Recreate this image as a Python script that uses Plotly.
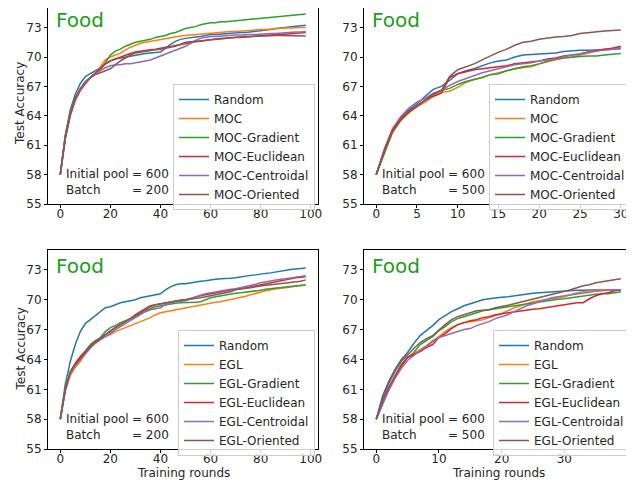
import plotly.graph_objects as go

# ---------------- data ----------------
rounds_200 = list(range(0, 100, 2))
rounds_moc500 = list(range(0, 31))
rounds_egl500 = list(range(0, 40))

moc_names = ["Random", "MOC", "MOC-Gradient", "MOC-Euclidean", "MOC-Centroidal", "MOC-Oriented"]
egl_names = ["Random", "EGL", "EGL-Gradient", "EGL-Euclidean", "EGL-Centroidal", "EGL-Oriented"]

# Panel 1: MOC, batch 200
moc200_random = [58, 62.0, 64.6, 66.2, 67.3, 68.0, 68.3, 68.6, 68.9, 69.3, 69.6, 69.8, 69.9, 70.0, 70.05, 70.2, 70.3, 70.35, 70.4, 70.45,
                 70.5, 70.9, 71.3, 71.6, 71.8, 71.9, 72.0, 72.05, 72.1, 72.2, 72.3, 72.3, 72.35, 72.4, 72.4, 72.45, 72.5, 72.5, 72.55, 72.6,
                 72.7, 72.75, 72.8, 72.9, 72.95, 73.0, 73.1, 73.15, 73.2, 73.25]
moc200_moc = [58, 61.8, 64.2, 65.6, 66.6, 67.4, 67.9, 68.3, 69.0, 69.7, 70.0, 70.2, 70.4, 70.7, 71.0, 71.2, 71.4, 71.5, 71.6, 71.7,
              71.8, 71.9, 72.0, 72.1, 72.15, 72.2, 72.25, 72.3, 72.35, 72.4, 72.45, 72.5, 72.5, 72.55, 72.6, 72.6, 72.65, 72.7, 72.75, 72.75,
              72.8, 72.8, 72.85, 72.9, 72.9, 72.95, 72.95, 73.0, 73.0, 73.0]
moc200_gradient = [58, 62.0, 64.4, 65.8, 66.7, 67.4, 67.9, 68.3, 68.7, 69.4, 70.2, 70.6, 70.8, 71.1, 71.3, 71.5, 71.6, 71.7, 71.8, 72.0,
                   72.1, 72.2, 72.4, 72.5, 72.7, 72.9, 73.0, 73.1, 73.3, 73.4, 73.5, 73.5, 73.6, 73.6, 73.65, 73.7, 73.75, 73.8, 73.85, 73.9,
                   74.0, 74.0, 74.05, 74.1, 74.15, 74.2, 74.25, 74.3, 74.35, 74.4]
moc200_euclidean = [58, 61.6, 64.0, 65.6, 66.6, 67.3, 67.9, 68.4, 68.9, 69.3, 69.6, 69.8, 70.0, 70.2, 70.35, 70.5, 70.6, 70.7, 70.75, 70.8,
                    70.9, 71.0, 71.1, 71.2, 71.3, 71.4, 71.5, 71.55, 71.6, 71.7, 71.8, 71.85, 71.9, 71.95, 72.0, 72.0, 72.05, 72.1, 72.1, 72.15,
                    72.2, 72.2, 72.25, 72.3, 72.3, 72.35, 72.4, 72.4, 72.45, 72.5]
moc200_centroidal = [58, 61.8, 64.2, 65.7, 66.7, 67.4, 67.9, 68.3, 68.6, 68.9, 69.1, 69.2, 69.2, 69.3, 69.3, 69.4, 69.5, 69.6, 69.7, 69.9,
                     70.1, 70.3, 70.5, 70.7, 70.9, 71.1, 71.4, 71.7, 71.9, 72.0, 72.1, 72.1, 72.15, 72.2, 72.2, 72.25, 72.25, 72.3, 72.3, 72.3,
                     72.35, 72.35, 72.4, 72.4, 72.45, 72.5, 72.5, 72.55, 72.55, 72.6]
moc200_oriented = [58, 61.8, 64.2, 65.8, 66.8, 67.5, 67.9, 68.2, 68.4, 68.6, 68.8, 69.2, 69.6, 69.9, 70.2, 70.4, 70.5, 70.6, 70.7, 70.75,
                   70.8, 70.9, 71.0, 71.1, 71.3, 71.5, 71.55, 71.6, 71.65, 71.7, 71.8, 71.8, 71.85, 71.9, 71.95, 72.0, 72.0, 72.05, 72.1, 72.1,
                   72.15, 72.15, 72.2, 72.2, 72.2, 72.2, 72.2, 72.2, 72.2, 72.15]

# Panel 2: MOC, batch 500
moc500_random = [58, 60.5, 62.5, 63.8, 64.6, 65.2, 66.0, 66.7, 67.0, 67.6, 68.3, 68.6, 68.8, 69.1, 69.4, 69.6, 69.7, 70.0, 70.2, 70.25,
                 70.3, 70.4, 70.4, 70.55, 70.65, 70.7, 70.7, 70.7, 70.75, 70.8, 70.85]
moc500_moc = [58, 60.2, 62.3, 63.5, 64.3, 64.9, 65.4, 66.0, 66.4, 66.5, 66.9, 67.4, 67.7, 67.9, 68.2, 68.4, 68.6, 68.8, 68.9, 69.0,
              69.3, 69.5, 69.7, 69.9, 70.0, 70.2, 70.4, 70.6, 70.8, 70.9, 71.0]
moc500_gradient = [58, 60.3, 62.4, 63.6, 64.4, 65.0, 65.6, 66.2, 66.6, 66.8, 67.2, 67.5, 67.7, 67.9, 68.2, 68.3, 68.6, 68.8, 69.0, 69.1,
                   69.3, 69.6, 69.8, 69.9, 70.0, 70.05, 70.1, 70.1, 70.2, 70.3, 70.35]
moc500_euclidean = [58, 60.4, 62.4, 63.6, 64.4, 65.0, 65.6, 66.0, 66.3, 67.9, 68.3, 68.5, 68.7, 68.8, 68.9, 69.0, 69.1, 69.3, 69.4, 69.5,
                    69.6, 69.8, 69.9, 70.1, 70.2, 70.3, 70.5, 70.7, 70.8, 70.9, 71.1]
moc500_centroidal = [58, 60.6, 62.7, 63.9, 64.8, 65.4, 65.8, 66.3, 66.6, 67.1, 67.5, 67.8, 68.1, 68.4, 68.6, 68.8, 69.0, 69.2, 69.3, 69.4,
                     69.6, 69.7, 69.8, 70.0, 70.2, 70.3, 70.5, 70.6, 70.7, 70.8, 70.9]
moc500_oriented = [58, 60.5, 62.6, 63.7, 64.5, 65.0, 65.6, 66.2, 66.6, 68.0, 68.7, 69.0, 69.3, 69.7, 70.1, 70.5, 70.8, 71.2, 71.5, 71.6,
                   71.8, 71.95, 72.05, 72.1, 72.2, 72.4, 72.5, 72.6, 72.65, 72.7, 72.75]

# Panel 3: EGL, batch 200
egl200_random = [58, 61.5, 63.8, 65.5, 66.8, 67.6, 68.0, 68.4, 68.8, 69.2, 69.3, 69.5, 69.7, 69.8, 69.9, 70.0, 70.2, 70.3, 70.4, 70.5,
                 70.6, 71.0, 71.3, 71.5, 71.6, 71.6, 71.7, 71.8, 71.85, 71.9, 72.0, 72.05, 72.1, 72.1, 72.15, 72.2, 72.3, 72.4, 72.45, 72.5,
                 72.6, 72.65, 72.7, 72.8, 72.9, 73.0, 73.05, 73.1, 73.15, 73.2]
egl200_egl = [58, 60.8, 62.4, 63.2, 63.8, 64.6, 65.2, 65.6, 66.0, 66.3, 66.5, 66.8, 67.0, 67.2, 67.4, 67.6, 67.8, 68.0, 68.2, 68.5,
              68.7, 68.8, 68.9, 69.0, 69.1, 69.2, 69.3, 69.4, 69.5, 69.6, 69.7, 69.75, 69.8, 69.9, 70.0, 70.1, 70.2, 70.35, 70.5, 70.65,
              70.8, 70.9, 71.0, 71.1, 71.15, 71.2, 71.3, 71.35, 71.4, 71.45]
egl200_gradient = [58, 61.0, 62.8, 63.6, 64.2, 64.9, 65.5, 65.9, 66.2, 66.8, 67.2, 67.4, 67.7, 67.9, 68.1, 68.3, 68.6, 68.9, 69.1, 69.3,
                   69.4, 69.5, 69.6, 69.65, 69.7, 69.7, 69.75, 69.75, 69.8, 70.0, 70.2, 70.3, 70.4, 70.5, 70.6, 70.65, 70.7, 70.75, 70.8, 70.85,
                   70.95, 71.05, 71.1, 71.2, 71.25, 71.3, 71.35, 71.4, 71.45, 71.5]
egl200_euclidean = [58, 61.0, 62.7, 63.6, 64.3, 64.8, 65.4, 65.8, 66.1, 66.5, 66.8, 67.2, 67.5, 67.8, 68.1, 68.5, 68.8, 69.1, 69.4, 69.5,
                    69.6, 69.7, 69.8, 69.9, 69.95, 70.0, 70.15, 70.3, 70.4, 70.5, 70.6, 70.7, 70.8, 70.9, 71.0, 71.1, 71.15, 71.2, 71.3, 71.4,
                    71.5, 71.6, 71.7, 71.85, 71.95, 72.05, 72.15, 72.2, 72.25, 72.3]
egl200_centroidal = [58, 60.9, 62.6, 63.4, 64.0, 64.6, 65.2, 65.7, 66.0, 66.3, 66.6, 67.0, 67.3, 67.6, 67.9, 68.2, 68.5, 68.8, 69.0, 69.1,
                     69.2, 69.5, 69.7, 69.8, 69.85, 69.9, 70.1, 70.3, 70.45, 70.6, 70.7, 70.8, 70.9, 71.0, 71.05, 71.1, 71.2, 71.3, 71.45, 71.55,
                     71.7, 71.8, 71.9, 72.0, 72.05, 72.1, 72.2, 72.3, 72.35, 72.4]
egl200_oriented = [58, 61.0, 62.7, 63.5, 64.1, 64.7, 65.3, 65.7, 66.1, 66.5, 66.9, 67.2, 67.5, 67.8, 68.1, 68.4, 68.7, 69.0, 69.3, 69.5,
                   69.6, 69.7, 69.8, 69.9, 69.95, 70.0, 70.05, 70.1, 70.2, 70.3, 70.4, 70.5, 70.6, 70.7, 70.8, 71.0, 71.05, 71.1, 71.2, 71.3,
                   71.4, 71.45, 71.5, 71.55, 71.6, 71.7, 71.75, 71.8, 71.85, 72.0]

# Panel 4: EGL, batch 500
egl500_random = [58, 60.3, 61.8, 63.0, 64.0, 64.7, 65.6, 66.4, 66.9, 67.4, 68.0, 68.4, 68.8, 69.1, 69.4, 69.6, 69.8, 70.0, 70.1, 70.2,
                 70.25, 70.3, 70.4, 70.5, 70.6, 70.65, 70.7, 70.75, 70.8, 70.85, 70.9, 70.9, 70.95, 70.95, 71.0, 71.0, 71.0, 71.0, 71.0, 71.0]
egl500_egl = [58, 59.6, 61.0, 62.2, 63.3, 64.2, 64.6, 65.0, 65.4, 65.9, 66.3, 66.8, 67.2, 67.5, 67.7, 67.8, 67.9, 68.0, 68.2, 68.4,
              68.6, 68.9, 69.2, 69.4, 69.6, 69.8, 69.9, 70.0, 70.1, 70.2, 70.3, 70.5, 70.7, 70.8, 70.9, 70.95, 71.0, 71.0, 71.0, 71.0]
egl500_gradient = [58, 59.8, 61.2, 62.4, 63.5, 64.2, 64.7, 65.5, 65.9, 66.3, 66.9, 67.3, 67.8, 68.1, 68.3, 68.5, 68.7, 68.9, 69.0, 69.1,
                   69.2, 69.3, 69.4, 69.5, 69.6, 69.7, 69.8, 69.9, 70.0, 70.05, 70.1, 70.2, 70.3, 70.4, 70.5, 70.55, 70.6, 70.6, 70.7, 70.8]
egl500_euclidean = [58, 59.6, 61.1, 62.3, 63.4, 64.2, 64.5, 64.8, 65.2, 65.5, 66.2, 66.6, 67.1, 67.5, 67.7, 67.9, 68.0, 68.2, 68.3, 68.5,
                    68.6, 68.7, 68.8, 68.9, 69.0, 69.05, 69.1, 69.2, 69.3, 69.4, 69.5, 69.6, 69.7, 69.7, 70.1, 70.4, 70.6, 70.7, 70.9, 71.0]
egl500_centroidal = [58, 59.4, 60.9, 62.1, 63.1, 63.9, 64.4, 64.9, 65.3, 65.8, 66.2, 66.4, 66.6, 66.8, 67.0, 67.1, 67.4, 67.6, 67.8, 68.1,
                     68.3, 68.5, 68.8, 69.1, 69.4, 69.6, 69.8, 70.0, 70.2, 70.3, 70.4, 70.5, 70.6, 70.7, 70.8, 70.85, 70.9, 71.0, 71.0, 71.0]
egl500_oriented = [58, 60.0, 61.6, 62.8, 63.8, 64.5, 65.1, 65.7, 66.1, 66.4, 67.0, 67.5, 68.0, 68.3, 68.5, 68.7, 68.9, 68.95, 69.0, 69.2,
                   69.3, 69.45, 69.6, 69.75, 69.9, 70.05, 70.2, 70.35, 70.5, 70.65, 70.8, 71.0, 71.2, 71.4, 71.5, 71.7, 71.8, 71.9, 72.0, 72.1]

y_ticks = [55, 58, 61, 64, 67, 70, 73]
colors = ["#1f77b4", "#ff7f0e", "#2ca02c", "#d62728", "#9467bd", "#8c564b"]

panels = [
    dict(x=rounds_200, names=moc_names, batch="200",
         series=[moc200_random, moc200_moc, moc200_gradient, moc200_euclidean, moc200_centroidal, moc200_oriented]),
    dict(x=rounds_moc500, names=moc_names, batch="500",
         series=[moc500_random, moc500_moc, moc500_gradient, moc500_euclidean, moc500_centroidal, moc500_oriented]),
    dict(x=rounds_200, names=egl_names, batch="200",
         series=[egl200_random, egl200_egl, egl200_gradient, egl200_euclidean, egl200_centroidal, egl200_oriented]),
    dict(x=rounds_egl500, names=egl_names, batch="500",
         series=[egl500_random, egl500_egl, egl500_gradient, egl500_euclidean, egl500_centroidal, egl500_oriented]),
]

# ---------------- layout geometry (page pixels; page body has an 8px margin) ----------------
OFF = 8
W, H = 634 - OFF, 480 - OFF
boxes = [(48, 318, 4, 204), (364, 633, 4, 204), (48, 318, 250, 449), (364, 633, 250, 449)]
xranges = [[-4.9, 102.9], [-1.5, 31.5], [-4.9, 102.9], [-1.95, 40.95]]
xdticks = [20, 5, 20, 10]
legend_pos = [(173, 84), (489, 84), (178, 330), (493, 330)]


def px(x):
    return (x - OFF) / W


def py(y):
    return 1 - (y - OFF) / H


FONT = "DejaVu Sans"
TXT = "#262626"

fig = go.Figure()
layout = dict(width=W, height=H, margin=dict(l=0, r=0, t=0, b=0, autoexpand=False),
              paper_bgcolor="white", plot_bgcolor="white",
              font=dict(family=FONT, size=12, color=TXT), showlegend=True)
annotations = []

for i, p in enumerate(panels):
    k = "" if i == 0 else str(i + 1)
    x0, x1, y0, y1 = boxes[i]
    leg = "legend" + k
    for name, ys, c in zip(p["names"], p["series"], colors):
        fig.add_trace(go.Scatter(x=p["x"], y=ys, mode="lines", name=name,
                                 line=dict(color=c, width=1.5),
                                 xaxis="x" + k, yaxis="y" + k, legend=leg))
    axcommon = dict(showgrid=False, zeroline=False, showline=True, linecolor="black", linewidth=1,
                    mirror=True, ticks="outside", ticklen=3, tickcolor="black", automargin=False,
                    tickfont=dict(family=FONT, size=12, color=TXT))
    layout["xaxis" + k] = dict(axcommon, domain=[max(px(x0), 0), min(px(x1), 1)], range=xranges[i],
                               anchor="y" + k, tick0=0, dtick=xdticks[i], ticklabelstandoff=-4)
    layout["yaxis" + k] = dict(axcommon, domain=[max(py(y1), 0), min(py(y0), 1)], range=[55, 75],
                               anchor="x" + k, tickvals=y_ticks)
    if i >= 2:
        annotations.append(dict(text="Training rounds", x=px((x0 + x1) / 2), y=py(473),
                                xref="paper", yref="paper", xanchor="center", yanchor="middle",
                                showarrow=False, font=dict(family=FONT, size=12, color=TXT)))
    if i % 2 == 0:
        annotations.append(dict(text="Test Accuracy", x=px(20), y=py((y0 + y1) / 2), textangle=-90,
                                xref="paper", yref="paper", xanchor="center", yanchor="middle",
                                showarrow=False, font=dict(family=FONT, size=12, color=TXT)))
    lx, ly = legend_pos[i]
    layout[leg] = dict(x=px(lx), y=py(ly), xanchor="left", yanchor="top",
                       bgcolor="rgba(255,255,255,0.8)", bordercolor="#cccccc", borderwidth=1,
                       font=dict(family=FONT, size=12, color=TXT), itemwidth=30,
                       tracegroupgap=0)
    # "Food" label
    annotations.append(dict(text="Food", x=px(x0 + 6), y=py(y0 + 16), xref="paper", yref="paper",
                            xanchor="left", yanchor="middle", showarrow=False,
                            font=dict(family=FONT, size=20, color="#1a9e1a")))
    # Initial pool / Batch text
    annotations.append(dict(text="Initial pool<br>Batch", x=px(x0 + 16), y=py(y1 - 22),
                            xref="paper", yref="paper", xanchor="left", yanchor="middle",
                            align="left", showarrow=False, font=dict(family=FONT, size=12, color=TXT)))
    annotations.append(dict(text="= 600<br>= " + p["batch"], x=px(x0 + 82), y=py(y1 - 22),
                            xref="paper", yref="paper", xanchor="left", yanchor="middle",
                            align="right", showarrow=False, font=dict(family=FONT, size=12, color=TXT)))

layout["annotations"] = annotations
fig.update_layout(**layout)
fig.write_html("out.html")
